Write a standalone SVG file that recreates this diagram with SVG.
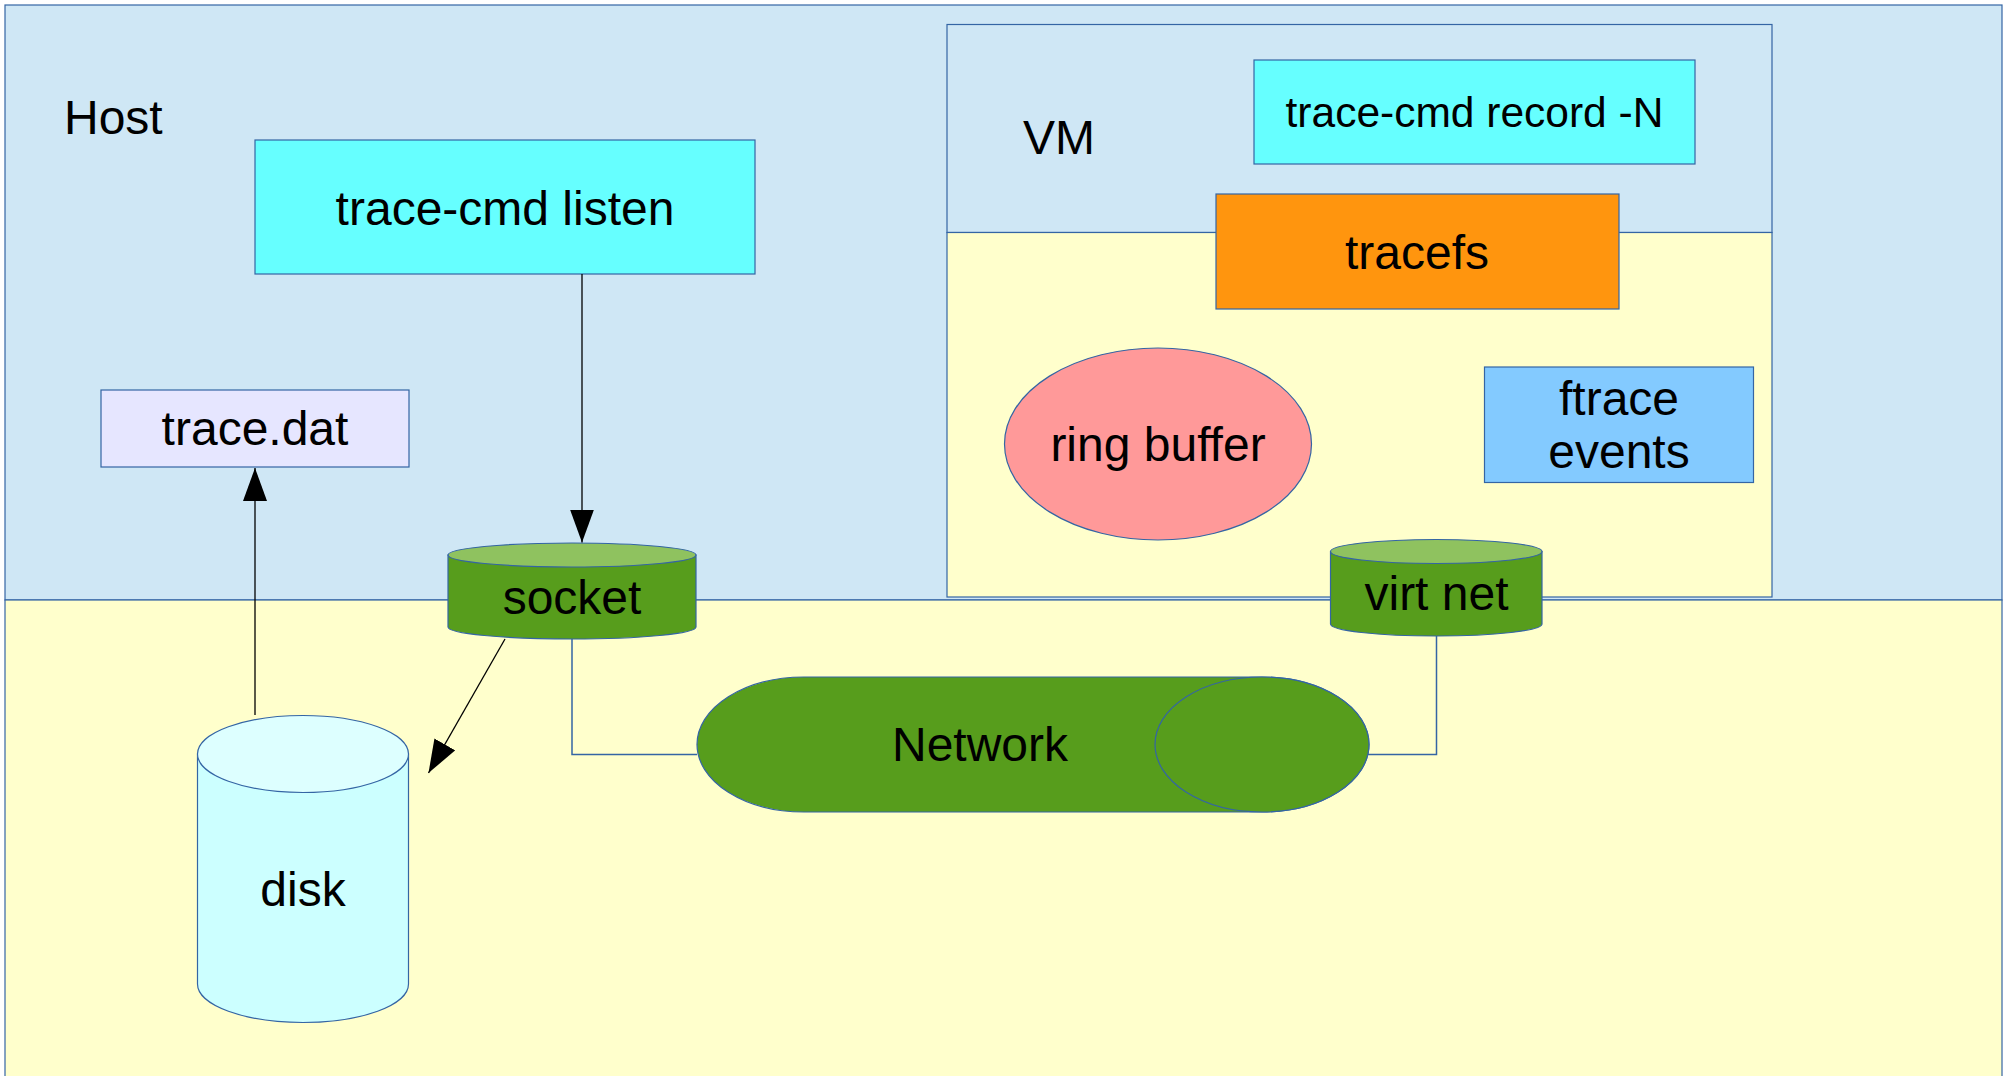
<svg xmlns="http://www.w3.org/2000/svg" width="2007" height="1076" viewBox="0 0 2007 1076">
<defs>
<style>
text{font-family:"Liberation Sans",Arial,sans-serif;font-size:48px;fill:#000}
.c{text-anchor:middle}
.s{stroke:#3465a4;stroke-width:1.2}
.con{fill:none;stroke:#3465a4;stroke-width:1.5}
.arr{fill:none;stroke:#000;stroke-width:1.3}
.green{fill:#579d1c}
.ltgreen{fill:#8fc25f}
</style>
<marker id="ah" markerUnits="userSpaceOnUse" markerWidth="34" markerHeight="24" refX="33" refY="12" orient="auto">
<path d="M0,0 L33,12 L0,24 Z" fill="#000"/>
</marker>
</defs>
<g id="host">
<rect x="5" y="5" width="1997" height="595" fill="#cfe7f5" class="s"/>
<rect x="5" y="600" width="1997" height="490" fill="#ffffcc" class="s"/>
<text x="64" y="134">Host</text>
</g>
<g id="vm">
<rect x="947" y="24.5" width="825" height="208" fill="#cfe7f5" class="s"/>
<rect x="947" y="232.5" width="825" height="364.5" fill="#ffffcc" class="s"/>
<text x="1023" y="154">VM</text>
</g>
<g id="listen">
<rect x="255" y="140" width="500" height="134" fill="#66ffff" class="s"/>
<text class="c" x="505" y="225">trace-cmd listen</text>
</g>
<g id="tracedat">
<rect x="101" y="390" width="308" height="77" fill="#e6e6ff" class="s"/>
<text class="c" x="255" y="445">trace.dat</text>
</g>
<g id="record">
<rect x="1254" y="60" width="441" height="104" fill="#66ffff" class="s"/>
<text class="c" x="1474.5" y="127" style="font-size:42.5px">trace-cmd record -N</text>
</g>
<g id="tracefs">
<rect x="1216" y="194" width="403" height="115" fill="#ff950e" class="s"/>
<text class="c" x="1417" y="269">tracefs</text>
</g>
<g id="ringbuffer">
<ellipse cx="1158" cy="444" rx="153.5" ry="96" fill="#ff9999" class="s"/>
<text class="c" x="1158" y="460.5">ring buffer</text>
</g>
<g id="ftrace">
<rect x="1484.5" y="367" width="269" height="115.5" fill="#83caff" class="s"/>
<text class="c" x="1619" y="415">ftrace</text>
<text class="c" x="1619" y="468">events</text>
</g>
<g id="socket">
<path d="M448,555 V627 A124,12 0 0 0 696,627 V555 Z" class="green s"/>
<ellipse cx="572" cy="555" rx="124" ry="12" class="ltgreen s"/>
<text class="c" x="572" y="614">socket</text>
</g>
<g id="virtnet">
<path d="M1330.5,551.5 V624 A105.75,12 0 0 0 1542,624 V551.5 Z" class="green s"/>
<ellipse cx="1436.25" cy="551.5" rx="105.75" ry="12" class="ltgreen s"/>
<text class="c" x="1436.5" y="610">virt net</text>
</g>
<g id="network">
<path d="M804,677 H1262 A107,67.5 0 0 1 1262,812 H804 A107,67.5 0 0 1 804,677 Z" class="green s"/>
<ellipse cx="1262" cy="744.5" rx="107" ry="67.5" class="green s"/>
<text class="c" x="980" y="761">Network</text>
</g>
<g id="disk">
<path d="M197.5,754 V984 A105.5,38.5 0 0 0 408.5,984 V754 Z" fill="#ccffff" class="s"/>
<ellipse cx="303" cy="754" rx="105.5" ry="38.5" fill="#ddffff" class="s"/>
<text class="c" x="303" y="905.5">disk</text>
</g>
<g id="connectors">
<polyline class="con" points="572,639 572,754.5 697,754.5"/>
<polyline class="con" points="1436.5,636 1436.5,754.5 1368,754.5"/>
<line class="arr" x1="582" y1="274" x2="582" y2="542.5" marker-end="url(#ah)"/>
<line class="arr" x1="255" y1="715" x2="255" y2="468" marker-end="url(#ah)"/>
<line class="arr" x1="505" y1="639" x2="428.5" y2="773" marker-end="url(#ah)"/>
</g>
</svg>
